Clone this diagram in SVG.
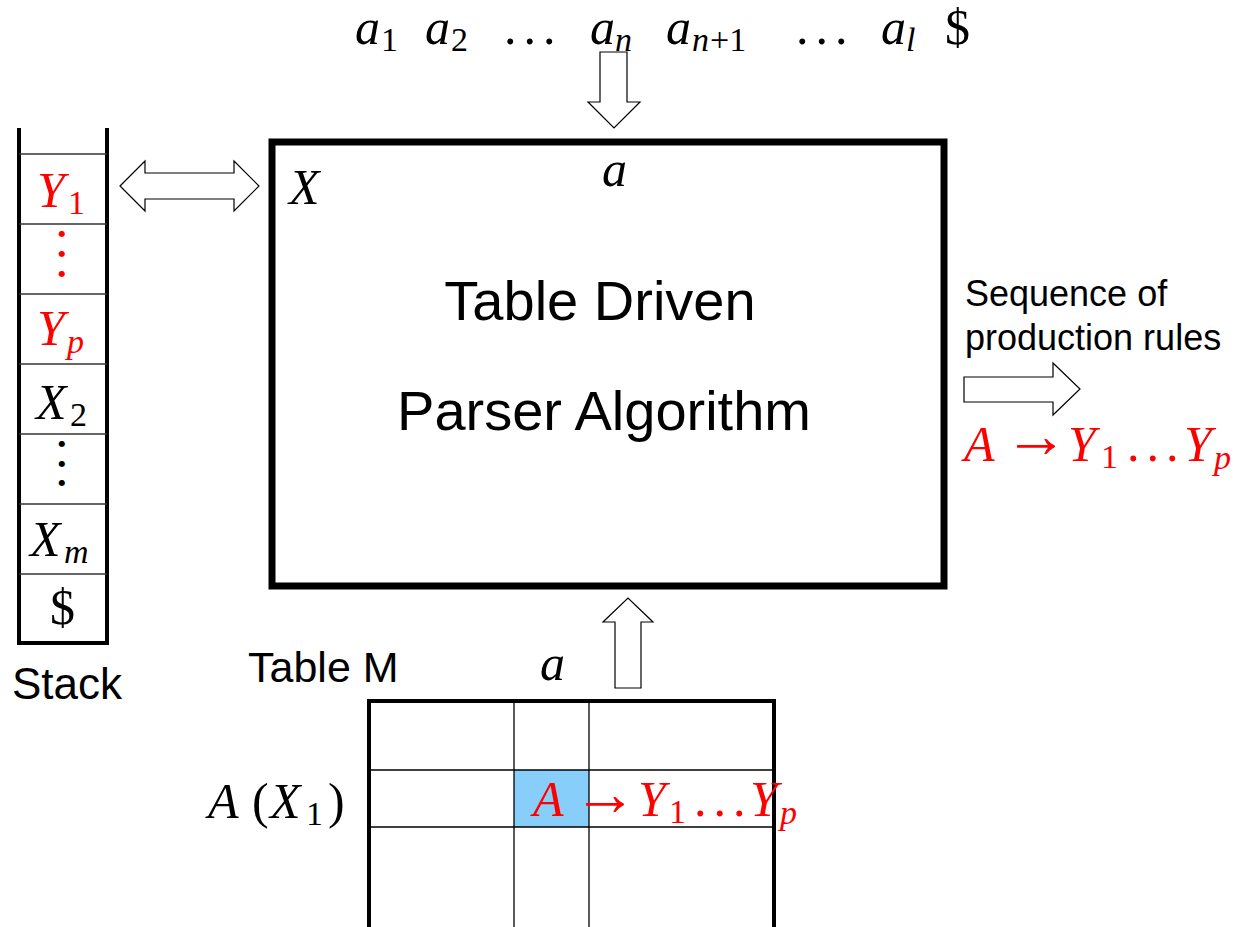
<svg xmlns="http://www.w3.org/2000/svg" width="1234" height="927" viewBox="0 0 1234 927">
<style>
.m{font-family:"Liberation Serif",serif;font-style:italic;font-size:50px}
.u{font-family:"Liberation Serif",serif;font-style:normal;font-size:50px}
.s{font-family:"Liberation Serif",serif;font-style:normal;font-size:34px}
.si{font-family:"Liberation Serif",serif;font-style:italic;font-size:34px}
.ar{font-family:"Liberation Serif",serif;font-style:normal;font-size:64px}
.vd{font-family:"DejaVu Sans",sans-serif;font-size:8px}
.red{fill:#ff0000}
.t{font-family:"Liberation Sans",Arial,sans-serif;fill:#000}
.arrow{fill:#fff;stroke:#000;stroke-width:1.2;stroke-linejoin:miter}
.thin{stroke:#333;stroke-width:1.3;fill:none}
</style>
<rect width="1234" height="927" fill="#fff"/>

<g id="input">
<text class="m" x="355" y="44">a</text><text class="s" x="381" y="51">1</text>
<text class="m" x="425" y="44">a</text><text class="s" x="451" y="51">2</text>
<text class="u" x="504" y="44">.<tspan dx="7">.</tspan><tspan dx="7">.</tspan></text>
<text class="m" x="590" y="44">a</text><text class="si" x="615" y="51">n</text>
<text class="m" x="666" y="44">a</text><text class="si" x="692" y="51">n</text><text class="s" x="710" y="51">+1</text>
<text class="u" x="796" y="44">.<tspan dx="7">.</tspan><tspan dx="7">.</tspan></text>
<text class="m" x="881" y="44">a</text><text class="si" x="906" y="51">l</text>
<text class="u" x="945" y="44">$</text>
</g>

<g id="stack">
<line x1="19" y1="128" x2="19" y2="645" stroke="#000" stroke-width="4"/>
<line x1="107" y1="128" x2="107" y2="645" stroke="#000" stroke-width="4"/>
<line x1="17" y1="643" x2="109" y2="643" stroke="#000" stroke-width="4"/>
<g class="thin">
<line x1="19" y1="154" x2="107" y2="154"/>
<line x1="19" y1="224" x2="107" y2="224"/>
<line x1="19" y1="294" x2="107" y2="294"/>
<line x1="19" y1="364" x2="107" y2="364"/>
<line x1="19" y1="434" x2="107" y2="434"/>
<line x1="19" y1="504" x2="107" y2="504"/>
<line x1="19" y1="574" x2="107" y2="574"/>
</g>
<text class="m red" x="37" y="207">Y</text><text class="s red" x="68" y="214">1</text>
<text class="vd red" x="62" y="236" text-anchor="middle">●</text>
<text class="vd red" x="62" y="256" text-anchor="middle">●</text>
<text class="vd red" x="62" y="276" text-anchor="middle">●</text>
<text class="m red" x="37" y="345">Y</text><text class="si red" x="67" y="353">p</text>
<text class="m" x="36" y="419">X</text><text class="s" x="70" y="426">2</text>
<text class="vd" x="62" y="446" text-anchor="middle">●</text>
<text class="vd" x="62" y="466" text-anchor="middle">●</text>
<text class="vd" x="62" y="485" text-anchor="middle">●</text>
<text class="m" x="30" y="556">X</text><text class="si" x="64" y="563">m</text>
<text class="u" x="50" y="624">$</text>
<text class="t" x="12" y="699" font-size="44">Stack</text>
</g>

<g id="parser">
<rect x="272" y="142" width="672" height="444" fill="#fff" stroke="#000" stroke-width="7"/>
<text class="m" x="289" y="204">X</text>
<text class="m" x="602" y="186">a</text>
<text class="t" x="600" y="320" font-size="56" text-anchor="middle">Table Driven</text>
<text class="t" x="604" y="430" font-size="56" text-anchor="middle">Parser Algorithm</text>
</g>

<g id="output">
<text class="t" x="965" y="306" font-size="36">Sequence of</text>
<text class="t" x="965" y="350" font-size="36">production rules</text>
<text class="m red" x="964" y="461">A</text>
<text class="ar red" x="1004" y="457">→</text>
<text class="m red" x="1068" y="461">Y</text><text class="s red" x="1101" y="468">1</text>
<text class="u red" x="1127" y="461">.<tspan dx="7">.</tspan><tspan dx="7">.</tspan></text>
<text class="m red" x="1184" y="461">Y</text><text class="si red" x="1214" y="469">p</text>
</g>

<g id="table">
<rect x="514" y="770" width="75" height="57" fill="#87cefa"/>
<g stroke="#000" stroke-width="1.3">
<line x1="514" y1="701" x2="514" y2="927"/>
<line x1="589" y1="701" x2="589" y2="927"/>
<line x1="369" y1="770" x2="774" y2="770"/>
<line x1="369" y1="827" x2="774" y2="827"/>
</g>
<path d="M369,927 V701 H774 V927" fill="none" stroke="#000" stroke-width="4"/>
<text class="t" x="248" y="682" font-size="43">Table M</text>
<text class="m" x="540" y="680">a</text>
<text class="m" x="208" y="818">A</text>
<text class="u" x="252" y="818">(</text>
<text class="m" x="270" y="818">X</text><text class="s" x="306" y="825">1</text>
<text class="u" x="328" y="818">)</text>
<text class="m red" x="533" y="816">A</text>
<text class="ar red" x="573" y="815">→</text>
<text class="m red" x="638" y="816">Y</text><text class="s red" x="669" y="823">1</text>
<text class="u red" x="694" y="816">.<tspan dx="7">.</tspan><tspan dx="7">.</tspan></text>
<text class="m red" x="750" y="816">Y</text><text class="si red" x="780" y="824">p</text>
</g>

<g id="connectors">
<polygon class="arrow" points="600,52 627,52 627,102 640,102 614,128 588,102 600,102"/>
<polygon class="arrow" points="615,688 641,688 641,622 653,622 628,598 603,622 615,622"/>
<polygon class="arrow" points="964,377 1053,377 1053,363 1080,389 1053,415 1053,402 964,402"/>
<polygon class="arrow" points="120,186 145,161 145,173 234,173 234,161 259,186 234,211 234,199 145,199 145,211"/>
</g>
</svg>
